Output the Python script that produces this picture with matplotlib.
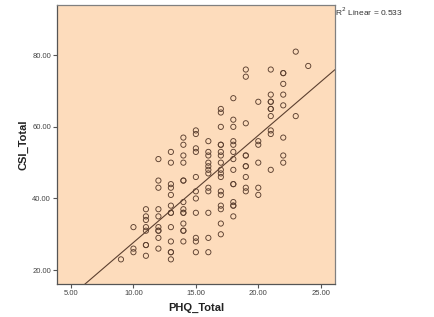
import matplotlib
matplotlib.use('Agg')
import matplotlib.pyplot as plt
import numpy as np

plt.rcParams['font.family'] = ['Liberation Sans', 'DejaVu Sans']

# PHQ_Total (x) and CSI_Total (y), read column by column
phq = ([9] +
       [10] * 3 +
       [11] * 8 +
       [12] * 10 +
       [13] * 13 +
       [14] * 14 +
       [15] * 11 +
       [16] * 12 +
       [17] * 17 +
       [18] * 14 +
       [19] * 10 +
       [20] * 6 +
       [21] * 10 +
       [22] * 8 +
       [23] * 2 +
       [24])
csi = ([23] +
       [32, 26, 25] +
       [37, 35, 34, 32, 31, 27, 27, 24] +
       [51, 45, 43, 37, 35, 32, 31, 31, 29, 26] +
       [53, 50, 44, 43, 41, 38, 36, 36, 32, 28, 25, 25, 23] +
       [57, 55, 52, 50, 45, 45, 39, 37, 36, 36, 33, 31, 31, 28] +
       [59, 58, 54, 53, 46, 42, 40, 36, 29, 28, 25] +
       [56, 53, 52, 50, 49, 48, 47, 43, 42, 36, 29, 25] +
       [65, 64, 60, 55, 55, 53, 52, 50, 48, 47, 46, 42, 41, 38, 37, 33, 30] +
       [68, 62, 60, 56, 55, 53, 51, 48, 44, 44, 39, 38, 38, 35] +
       [76, 74, 61, 52, 52, 49, 49, 46, 43, 42] +
       [67, 56, 55, 50, 43, 41] +
       [76, 69, 67, 67, 65, 65, 63, 59, 58, 48] +
       [75, 75, 72, 69, 66, 57, 52, 50] +
       [81, 63] +
       [77])
r2_text = 'R$^2$ Linear = 0.533'

x = np.array(phq, dtype=float)
y = np.array(csi, dtype=float)
slope, intercept = np.polyfit(x, y, 1)

fig = plt.figure(figsize=(4.35, 3.17), dpi=100)
ax = fig.add_axes([0.1317, 0.105, 0.6377, 0.879])
ax.set_facecolor('#FDDCBC')

ax.scatter(x, y, s=14, facecolors='none', edgecolors='#5C4030', linewidths=0.65, zorder=3)

xlim = (3.9, 26.12)
xs = np.array(xlim)
ax.plot(xs, slope * xs + intercept, color='#5C4030', linewidth=0.8, zorder=2)

ax.set_xlim(*xlim)
ax.set_ylim(16.2, 94)
ax.set_xticks([5, 10, 15, 20, 25])
ax.set_yticks([20, 40, 60, 80])
ax.xaxis.set_major_formatter(plt.FuncFormatter(lambda v, p: f'{v:.2f}'))
ax.yaxis.set_major_formatter(plt.FuncFormatter(lambda v, p: f'{v:.2f}'))
ax.tick_params(direction='out', length=3, width=0.8, color='#555555',
               labelsize=5.5, labelcolor='#444444', pad=1.5)

for s in ax.spines.values():
    s.set_color('#808080')
    s.set_linewidth(0.9)
ax.spines['left'].set_color('#555555')
ax.spines['bottom'].set_color('#555555')

ax.set_xlabel('PHQ_Total', fontsize=8, fontweight='bold', color='#222222', labelpad=4)
ax.set_ylabel('CSI_Total', fontsize=8, fontweight='bold', color='#222222', labelpad=3)

fig.text(335.5 / 435, 1 - 12.3 / 317, r2_text, fontsize=6, color='#333333',
         ha='left', va='center')

fig.savefig('out.png', dpi=100)
